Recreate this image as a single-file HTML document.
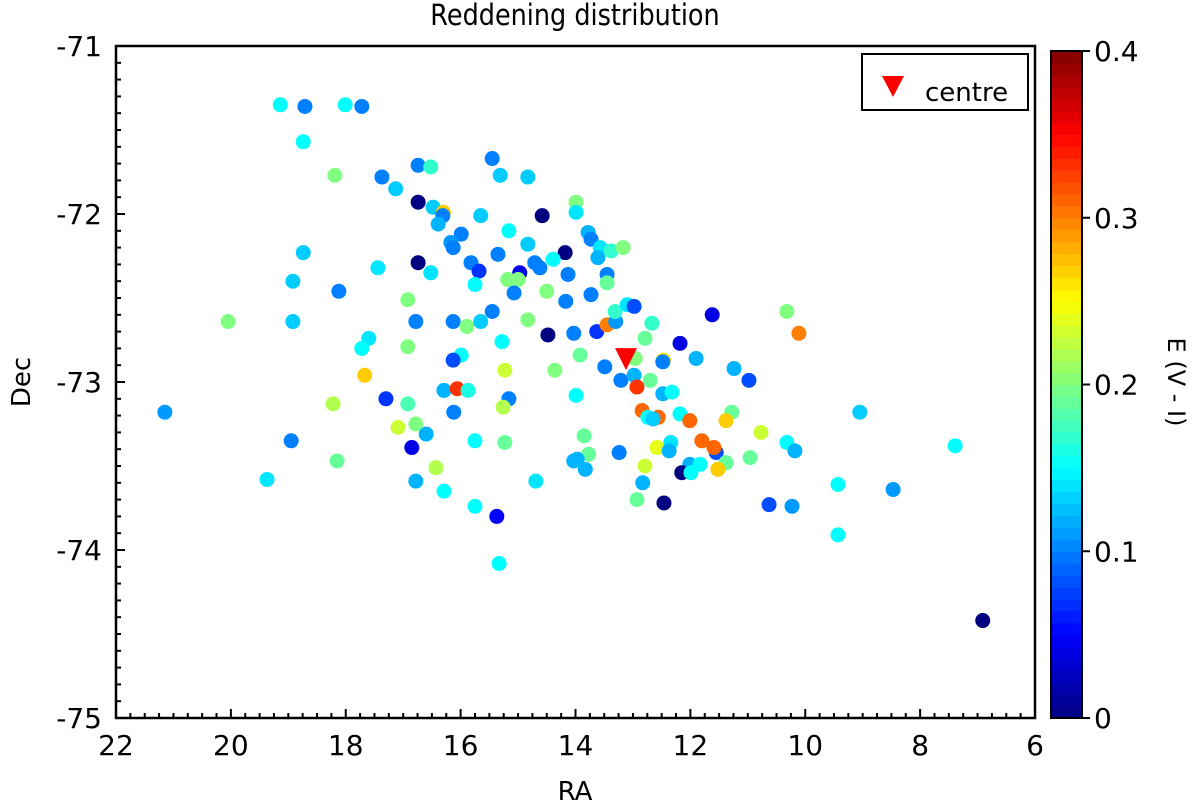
<!DOCTYPE html>
<html><head><meta charset="utf-8">
<style>
html,body{margin:0;padding:0;background:#fff;}
svg{display:block;font-family:"DejaVu Sans","Liberation Sans",sans-serif;}
</style></head>
<body>
<svg id="chart" width="1200" height="804" viewBox="0 0 1200 804" xmlns="http://www.w3.org/2000/svg">
<text x="575" y="25" font-size="29" text-anchor="middle" transform="translate(575,0) scale(0.88,1) translate(-575,0)">Reddening distribution</text>
<g id="points"></g>
<rect x="116" y="46" width="919" height="672" fill="none" stroke="#000" stroke-width="2.5"/>
<g id="axes"></g>
<text x="575" y="800" font-size="26" text-anchor="middle">RA</text>
<text x="0" y="0" font-size="26" text-anchor="middle" transform="translate(30,382) rotate(-90)">Dec</text>
<g>
<rect x="862" y="54" width="166" height="56" fill="#fff" stroke="#000" stroke-width="2"/>
<polygon points="882,76 904,76 893,97" fill="#ff0000"/>
<text x="925" y="101" font-size="26">centre</text>
</g>
<g id="cbar"></g>
<text x="0" y="0" font-size="24" text-anchor="middle" transform="translate(1168,382) rotate(90)">E (V - I)</text>
</svg>
<script>
const ra=[19.14,18.71,18.01,17.72,18.74,18.19,17.37,17.13,16.74,16.52,15.45,15.31,14.83,16.74,16.48,16.30,16.31,16.39,15.65,14.58,15.16,15.99,16.17,16.13,14.83,15.35,14.18,14.39,14.71,14.62,18.74,16.74,17.44,16.52,15.82,15.68,14.97,15.18,15.00,15.75,15.07,14.13,14.50,14.17,18.92,18.12,16.92,20.05,18.92,16.78,16.13,15.89,15.65,15.45,14.83,14.48,14.03,17.60,17.72,16.92,15.28,15.99,16.13,17.67,15.23,14.36,13.99,13.99,21.15,18.22,17.30,16.92,16.29,16.06,15.87,15.16,15.26,16.12,17.09,16.78,16.60,16.85,15.75,15.23,18.95,18.15,16.43,19.37,16.78,16.29,15.75,15.37,15.33,14.69,14.03,13.99,13.78,13.73,13.57,13.61,13.38,13.17,13.45,13.45,13.73,13.63,13.45,13.30,13.31,13.10,12.98,12.67,12.79,13.92,13.49,12.96,13.21,12.98,12.70,12.93,12.47,12.48,12.18,11.90,11.62,11.24,10.98,10.32,10.11,12.48,12.32,12.84,12.74,12.56,12.65,12.18,12.01,11.28,11.38,9.05,10.77,13.85,13.77,13.97,13.83,13.24,12.58,12.34,12.37,11.80,11.55,11.59,10.32,10.18,10.96,12.79,12.01,11.83,11.38,11.52,12.15,11.99,12.83,12.93,12.46,9.43,8.47,10.63,10.23,7.39,9.43,6.91];
const dec=[-71.35,-71.36,-71.35,-71.36,-71.57,-71.77,-71.78,-71.85,-71.71,-71.72,-71.67,-71.77,-71.78,-71.93,-71.96,-71.99,-72.01,-72.06,-72.01,-72.01,-72.10,-72.12,-72.17,-72.20,-72.18,-72.24,-72.23,-72.27,-72.29,-72.32,-72.23,-72.29,-72.32,-72.35,-72.29,-72.34,-72.35,-72.39,-72.39,-72.42,-72.47,-72.36,-72.46,-72.52,-72.40,-72.46,-72.51,-72.64,-72.64,-72.64,-72.64,-72.67,-72.64,-72.58,-72.63,-72.72,-72.71,-72.74,-72.80,-72.79,-72.76,-72.84,-72.87,-72.96,-72.93,-72.93,-71.93,-71.99,-73.18,-73.13,-73.10,-73.13,-73.05,-73.04,-73.05,-73.10,-73.15,-73.18,-73.27,-73.25,-73.31,-73.39,-73.35,-73.36,-73.35,-73.47,-73.51,-73.58,-73.59,-73.65,-73.74,-73.80,-74.08,-73.59,-73.47,-73.08,-72.11,-72.15,-72.20,-72.26,-72.22,-72.20,-72.36,-72.41,-72.48,-72.70,-72.66,-72.64,-72.58,-72.54,-72.55,-72.65,-72.74,-72.84,-72.91,-72.86,-72.99,-72.96,-72.99,-73.03,-72.87,-72.88,-72.77,-72.86,-72.60,-72.92,-72.99,-72.58,-72.71,-73.07,-73.06,-73.17,-73.21,-73.21,-73.22,-73.19,-73.23,-73.18,-73.23,-73.18,-73.30,-73.32,-73.43,-73.46,-73.52,-73.42,-73.39,-73.36,-73.41,-73.35,-73.42,-73.39,-73.36,-73.41,-73.45,-73.50,-73.49,-73.49,-73.48,-73.52,-73.54,-73.54,-73.60,-73.70,-73.72,-73.61,-73.64,-73.73,-73.74,-73.38,-73.91,-74.42];
const ebv=[0.15,0.10,0.15,0.10,0.15,0.20,0.10,0.13,0.10,0.17,0.10,0.13,0.13,0.00,0.13,0.27,0.10,0.12,0.13,0.00,0.15,0.10,0.11,0.10,0.13,0.10,0.00,0.15,0.10,0.10,0.13,0.00,0.14,0.14,0.10,0.07,0.04,0.20,0.20,0.15,0.10,0.10,0.20,0.10,0.13,0.10,0.20,0.20,0.13,0.10,0.10,0.20,0.13,0.10,0.20,0.00,0.10,0.14,0.15,0.20,0.15,0.15,0.08,0.27,0.23,0.20,0.20,0.14,0.11,0.22,0.07,0.18,0.12,0.33,0.16,0.10,0.22,0.10,0.23,0.20,0.12,0.04,0.15,0.19,0.10,0.19,0.22,0.14,0.12,0.15,0.15,0.05,0.15,0.14,0.12,0.15,0.12,0.10,0.14,0.12,0.17,0.20,0.10,0.19,0.10,0.07,0.30,0.11,0.17,0.14,0.08,0.17,0.19,0.19,0.10,0.20,0.10,0.12,0.19,0.33,0.26,0.10,0.04,0.12,0.04,0.12,0.08,0.20,0.30,0.12,0.15,0.31,0.15,0.31,0.13,0.15,0.31,0.19,0.27,0.13,0.23,0.19,0.19,0.12,0.12,0.10,0.24,0.14,0.12,0.31,0.08,0.31,0.15,0.12,0.19,0.23,0.12,0.15,0.19,0.27,0.00,0.15,0.12,0.19,0.00,0.15,0.11,0.08,0.11,0.15,0.15,0.00];
const centreRA=[13.12];
const centreDec=[-72.87];
const xTicks=[22,20,18,16,14,12,10,8,6];
const yTicks=[-71,-72,-73,-74,-75];
const cTicks=[0,0.1,0.2,0.3,0.4];
const cTickLabels=["0","0.1","0.2","0.3","0.4"];

const NS="http://www.w3.org/2000/svg";
const X0=116,X1=1035,Y0=46,Y1=718;
function xs(v){return X0+(22-v)/(22-6)*(X1-X0);}
function ys(v){return Y0+(-71-v)/4*(Y1-Y0);}
const CB0=51,CB1=718,CBX=1051,CBW=31;
function cs(v){return CB1-v/0.4*(CB1-CB0);}
function jet(v){let t=Math.max(0,Math.min(1,v/0.4));
 const c=x=>Math.round(255*Math.max(0,Math.min(1,x)));
 return `rgb(${c(1.5-Math.abs(4*t-3))},${c(1.5-Math.abs(4*t-2))},${c(1.5-Math.abs(4*t-1))})`;}
function mk(tag,attrs,parent){const e=document.createElementNS(NS,tag);for(const k in attrs)e.setAttribute(k,attrs[k]);parent.appendChild(e);return e;}

const pg=document.getElementById('points');
for(let i=0;i<ra.length;i++){
 const c=mk('circle',{cx:xs(ra[i]),cy:ys(dec[i]),r:7.5,fill:jet(ebv[i])},pg);
 
 
}
for(let i=0;i<centreRA.length;i++){
 const x=xs(centreRA[i]),y=ys(centreDec[i]);
 const t=mk('polygon',{points:`${x-11},${y-12} ${x+11},${y-12} ${x},${y+10}`,fill:'#ff0000'},pg);
 
 
}

const ax=document.getElementById('axes');
for(let v=22;v>=6-1e-9;v-=0.25){
 const x=xs(v),major=Math.abs(v-Math.round(v/2)*2)<1e-6;
 const l=mk('line',{x1:x,x2:x,y1:Y1,y2:Y1-(major?9:5),stroke:'#000','stroke-width':2},ax);
 
 
}
for(let v=-71;v>=-75-1e-9;v-=0.1){
 const y=ys(v),major=Math.abs(v-Math.round(v))<1e-6;
 const l=mk('line',{x1:X0,x2:X0+(major?9:5),y1:y,y2:y,stroke:'#000','stroke-width':2},ax);
 
 
}
xTicks.forEach(v=>{
 const t=mk('text',{x:xs(v),y:755,'font-size':28,'text-anchor':'middle'},ax);t.textContent=String(v);
 
 
});
yTicks.forEach(v=>{
 const t=mk('text',{x:102,y:ys(v)+10,'font-size':28,'text-anchor':'end'},ax);t.textContent=String(v);
 
 
});

const cb=document.getElementById('cbar');
const N=56;
for(let i=0;i<N;i++){
 const v0=i*0.4/N,v1=(i+1)*0.4/N;
 const r=mk('rect',{x:CBX,y:cs(v1),width:CBW,height:cs(v0)-cs(v1)+0.6,fill:jet((v0+v1)/2)},cb);
 
 
}
const fr=mk('rect',{x:CBX,y:CB0,width:CBW,height:CB1-CB0,fill:'none',stroke:'#000','stroke-width':2},cb);


cTicks.forEach((v,i)=>{
 const y=cs(v);
 const l=mk('line',{x1:CBX+CBW,x2:CBX+CBW+8,y1:y,y2:y,stroke:'#000','stroke-width':2},cb);
 
 
 const t=mk('text',{x:CBX+CBW+12,y:y+10,'font-size':28},cb);t.textContent=cTickLabels[i];
 
 
});
</script>
</body></html>
